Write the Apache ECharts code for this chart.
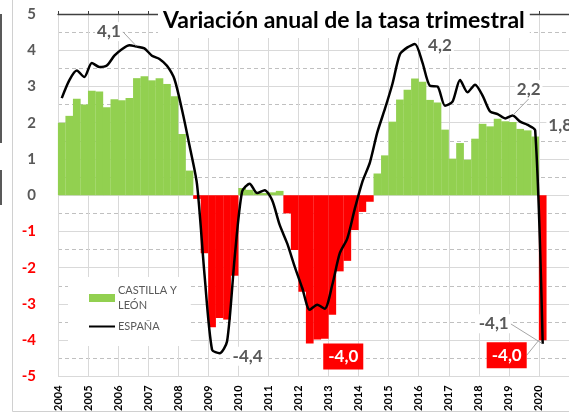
<!DOCTYPE html>
<html>
<head>
<meta charset="utf-8">
<script src="https://cdn.jsdelivr.net/npm/echarts@6/dist/echarts.min.js"></script>
<style>
  html, body { margin: 0; padding: 0; background: #fff; }
  #chart { width: 569px; height: 414px; }
</style>
</head>
<body>
<div id="chart"></div>
<script>
// datos trimestrales 2004T1 .. 2020T1
const firstYear = 2004;
const yearLabels = ['2004', '2005', '2006', '2007', '2008', '2009', '2010', '2011', '2012',
  '2013', '2014', '2015', '2016', '2017', '2018', '2019', '2020'];
const yTicks = [-5, -4, -3, -2, -1, 0, 1, 2, 3, 4, 5];

const castillaLeon = [
  2.0, 2.19, 2.66, 2.5,
  2.88, 2.86, 2.43, 2.65,
  2.62, 2.68, 3.23, 3.28,
  3.17, 3.23, 3.07, 2.73,
  1.69, 0.68, -0.1, -1.6,
  -3.64, -3.39, -3.43, -2.22,
  0.2, 0.15, 0.08, 0.06,
  0.08, 0.12, -0.5, -1.51,
  -2.66, -4.09, -3.98, -3.96,
  -3.3, -2.1, -1.81, -0.96,
  -0.46, -0.18, 0.6, 1.1,
  2.03, 2.64, 2.91, 3.22,
  3.13, 2.63, 2.56, 1.81,
  1.01, 1.44, 0.98, 1.56,
  1.97, 1.9, 2.11, 2.04,
  2.02, 1.83, 1.79, 1.62,
  -4.0
];

const espana = [
  2.68, 3.17, 3.44, 3.26,
  3.65, 3.54, 3.58, 3.85,
  4.03, 4.14, 4.1, 4.05,
  3.85, 3.76, 3.57, 3.2,
  2.36, 1.37, 0.3, -2.2,
  -4.26, -4.36, -4.03, -1.74,
  0.1, 0.32, 0.06, 0.14,
  -0.14, -0.82, -1.33, -1.97,
  -2.56, -3.16, -3.02, -3.13,
  -2.47, -1.6, -1.19, -0.37,
  0.37, 0.9, 1.74, 2.38,
  3.07, 3.89, 4.08, 4.17,
  3.66, 3.02, 3.0, 2.47,
  2.58, 3.18, 2.84, 3.05,
  2.75, 2.31, 2.24, 2.12,
  2.2, 2.03, 1.94, 1.79,
  -4.1
];

// etiquetas: indice del trimestre -> desplazamiento respecto al punto
const espanaLabels = { 10: [-28, -15, true], 21: [28, 3], 47: [25, 1], 60: [16, -26, true], 63: [25, -5], 64: [-49, -20, true] };
const cylLabels = { 34: [26, 17], 64: [-36, 15, true] };

const GREEN = '#92d050';
const RED = '#ff0000';
const GREY = '#595959';
const FONT = 'Lato, "Open Sans", sans-serif';

const qx = i => firstYear + (i + 0.5) / 4;
const fmt = v => v.toFixed(1).replace('.', ',');

const barData = castillaLeon.map((v, i) => {
  const item = { value: [qx(i), v] };
  if (v < 0) item.itemStyle = { color: RED };
  if (cylLabels[i]) {
    item.label = {
      show: true, formatter: fmt(v), color: '#fff', backgroundColor: RED,
      fontSize: 17, fontWeight: 'bold', fontFamily: FONT, padding: [5, 5, 4, 5]
    };
    if (cylLabels[i][2]) item.labelLine = { show: true, lineStyle: { color: '#a6a6a6', width: 1 } };
  }
  return item;
});

const lineData = espana.map((v, i) => {
  const item = { value: [qx(i), v] };
  if (espanaLabels[i]) {
    item.label = {
      show: true, formatter: fmt(v), color: GREY, backgroundColor: '#fff',
      fontSize: 17, fontWeight: 'bold', fontFamily: FONT, padding: [1, 2]
    };
    if (espanaLabels[i][2]) item.labelLine = { show: true, lineStyle: { color: '#a6a6a6', width: 1 } };
  }
  return item;
});

function moveLabel(table) {
  return function (p) {
    const off = table[p.dataIndex];
    if (!off) return {};
    const r = p.rect;
    const cx = r.x + r.width / 2;
    const top = Math.min(r.y, r.y + r.height);
    const bottom = Math.max(r.y, r.y + r.height);
    const cy = table === cylLabels ? bottom : (top + bottom) / 2;
    return { x: cx + off[0], y: cy + off[1], align: 'center', verticalAlign: 'middle' };
  };
}

const chart = echarts.init(document.getElementById('chart'));
chart.setOption({
  animation: false,
  backgroundColor: '#fff',
  title: {
    text: 'Variación anual de la tasa trimestral',
    left: 158,
    top: 3,
    padding: [6, 5, 6, 5],
    backgroundColor: '#fff',
    textStyle: { fontSize: 23, fontWeight: 'bold', color: '#000', fontFamily: FONT }
  },
  legend: {
    orient: 'vertical',
    left: 68,
    top: 277,
    padding: [6, 14, 12, 20],
    backgroundColor: '#fff',
    itemWidth: 26,
    itemHeight: 8,
    itemGap: 6,
    data: [{ name: 'CASTILLA Y LEÓN', icon: 'rect' }, { name: 'ESPAÑA' }],
    formatter: n => n === 'CASTILLA Y LEÓN' ? 'CASTILLA Y\nLEÓN' : n,
    textStyle: { color: GREY, fontSize: 11, lineHeight: 15, fontFamily: FONT, padding: [0, 0, 0, -2] }
  },
  grid: { left: 58, right: -4, top: 14, bottom: 36 },
  xAxis: [{
    type: 'value', min: 2004, max: 2021, interval: 1,
    axisLine: { show: false }, axisTick: { show: false },
    splitLine: { show: true, lineStyle: { color: '#d9d9d9', width: 1 } },
    axisLabel: {
      rotate: 90, margin: 9, fontSize: 11, fontWeight: 'bold', color: '#000', fontFamily: FONT,
      formatter: v => yearLabels.includes(String(v)) ? String(v) : ''
    }
  }, {
    type: 'value', min: 2004, max: 2021, interval: 1, z: 5,
    axisLine: { show: true, onZero: true, lineStyle: { color: '#404040', width: 1.3 } },
    axisTick: { show: true, length: 3, lineStyle: { color: '#404040' } },
    splitLine: { show: false }, axisLabel: { show: false }
  }],
  yAxis: {
    type: 'value', min: yTicks[0], max: yTicks[yTicks.length - 1], interval: 1,
    axisLine: { show: false }, axisTick: { show: false },
    splitLine: { lineStyle: { color: '#d9d9d9', width: 1 } },
    minorTick: { show: false, splitNumber: 2 },
    minorSplitLine: { show: true, lineStyle: { color: '#c0c0c0', type: [4, 3], width: 1 } },
    axisLabel: {
      margin: 22, fontSize: 15, fontWeight: 'bold', fontFamily: FONT,
      color: v => (v < 0 ? RED : GREY)
    }
  },
  series: [{
    name: 'CASTILLA Y LEÓN',
    type: 'bar',
    barWidth: 7.7,
    itemStyle: { color: GREEN },
    data: barData,
    labelLayout: moveLabel(cylLabels),
    z: 2
  }, {
    name: 'ESPAÑA',
    type: 'line',
    symbol: 'circle',
    symbolSize: 1,
    smooth: 0.25,
    itemStyle: { color: 'rgba(0,0,0,0)' },
    lineStyle: { color: '#000', width: 2.5 },
    data: lineData,
    labelLayout: moveLabel(espanaLabels),
    z: 3
  }],
  graphic: [
    { type: 'line', shape: { x1: 12.5, y1: 0, x2: 12.5, y2: 411.5 }, style: { stroke: '#d0d0d0', lineWidth: 1 } },
    { type: 'line', shape: { x1: 12.5, y1: 411.5, x2: 569, y2: 411.5 }, style: { stroke: '#d0d0d0', lineWidth: 1 } },
    { type: 'line', shape: { x1: 1, y1: 14, x2: 1, y2: 143 }, style: { stroke: '#595959', lineWidth: 2 } },
    { type: 'line', shape: { x1: 1, y1: 170, x2: 1, y2: 205 }, style: { stroke: '#595959', lineWidth: 2 } }
  ]
});
</script>
</body>
</html>
